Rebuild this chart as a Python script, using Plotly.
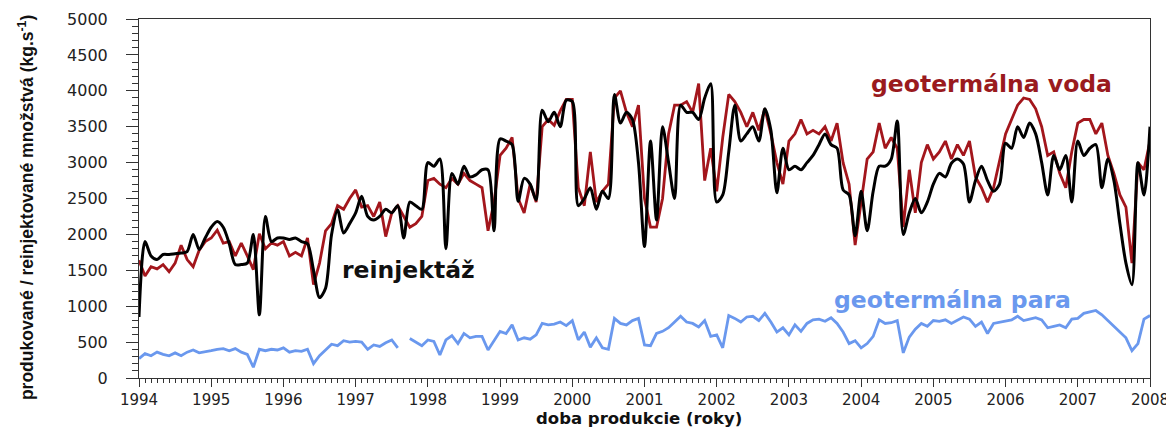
import plotly.graph_objects as go

start_year = 1994
n_months = 169  # Jan 1994 ... Jan 2008, monthly
t = [start_year + i / 12 for i in range(n_months)]

# geotermálna voda (produced water)
voda = [
    1640, 1420, 1550, 1520, 1580, 1480, 1600, 1850, 1650, 1550, 1780, 1900,
    1950, 2060, 1880, 1900, 1700, 1880, 1700, 1510, 2010, 1800, 1880, 1850,
    1900, 1700, 1750, 1700, 1950, 1300, 1600, 2050, 2150, 2400, 2350, 2500,
    2620, 2380, 2400, 2250, 2450, 1970, 2300, 2400, 2250, 2100, 2150, 2250,
    2750, 2780, 2700, 2650, 2780, 2700, 2850, 2750, 2700, 2650, 2050, 2450,
    3100, 3200, 3350, 2500, 2300, 2700, 2450, 3500, 3600, 3520, 3720, 3880,
    3880, 2650, 2400, 3150, 2450, 2600, 2700, 3900, 4000, 3700, 3500, 3800,
    2500, 2100, 2100, 2500, 3400, 3800, 3800, 3850, 3700, 4100, 2750, 3200,
    2600, 3350, 3950, 3850, 3700, 3500, 3700, 3450, 3750, 3400, 3000, 2700,
    3300, 3400, 3600, 3400, 3450, 3400, 3500, 3300, 3550, 3000, 2700, 1850,
    2450, 3050, 3150, 3550, 3200, 3350, 3200, 2100, 2900, 2300, 3000, 3250,
    3050, 3150, 3300, 3050, 3250, 3100, 3300, 2800, 2650, 2450, 2650, 3050,
    3400, 3600, 3800, 3900, 3880, 3750, 3500, 3100, 3150, 2850, 2650, 3150,
    3550, 3600, 3600, 3400, 3550, 3100, 2850, 2550, 2380, 1600, 3000, 2900,
    3300,
]

# reinjektáž (reinjected water)
reinjektaz = [
    850, 1900, 1700, 1650, 1720, 1720, 1730, 1740, 1760, 2000, 1790, 1950,
    2100, 2180, 2100, 1870, 1580, 1580, 1600, 2000, 880, 2250, 1900, 1950,
    1950, 1930, 1950, 1900, 1870, 1500, 1120, 1250, 2000, 2340, 2020, 2150,
    2300, 2530, 2250, 2200, 2250, 2350, 2300, 2400, 1950, 2450, 2400, 2350,
    3000, 2950, 3050, 1800, 2850, 2700, 2950, 2800, 2830, 2900, 2900, 2050,
    3330, 3300, 3250, 2460, 2780, 2700, 2480, 3730, 3570, 3700, 3500, 3870,
    3850, 2400, 2500, 2650, 2350, 2600, 2500, 3950, 3550, 3700, 3600, 3000,
    1830, 3300, 2200, 3500, 3000, 2500, 3800, 3700, 3700, 3600, 3900, 4100,
    2450, 2550, 3150, 3800, 3300, 3400, 3500, 3300, 3750, 3450, 2580, 3200,
    2900, 2950, 2900, 3000, 3100, 3250, 3400, 3250, 3200, 2620, 2550, 1980,
    2600, 2050, 2600, 2950, 2950, 3050, 3580, 2000, 2300, 2500, 2300, 2450,
    2700, 2850, 2800, 2990, 3050, 2980, 2450, 2750, 2950, 2750, 2600, 2700,
    3270, 3200, 3500, 3350, 3550, 3400, 3000, 2550, 3100, 2900, 3100, 2450,
    3300, 3100, 3200, 3250, 2650, 3050, 2750, 2150, 1600, 1300, 3000, 2550,
    3500,
]

# geotermálna para (steam)
para = [
    270, 340, 310, 360, 330, 310, 350, 310, 360, 390, 350, 360,
    380, 400, 410, 380, 410, 360, 330, 150, 400, 380, 400, 390,
    420, 360, 380, 370, 400, 200, 310, 390, 470, 450, 520, 500,
    510, 500, 400, 460, 440, 490, 530, 420, None, 550, 500, 450,
    530, 510, 320, 530, 590, 480, 620, 560, 580, 580, 390, 520,
    650, 620, 740, 530, 560, 540, 600, 760, 740, 750, 780, 730,
    800, 530, 640, 430, 560, 420, 400, 830, 760, 740, 800, 830,
    460, 450, 620, 650, 700, 780, 860, 780, 760, 710, 800, 580,
    600, 420, 870, 830, 780, 850, 860, 800, 900, 780, 640, 700,
    600, 740, 650, 760, 810, 820, 790, 840, 760, 640, 480, 520,
    420, 480, 580, 810, 760, 770, 800, 350, 570, 680, 760, 720,
    800, 790, 810, 760, 800, 850, 820, 720, 780, 620, 760, 780,
    800, 810, 860, 800, 820, 840, 810, 700, 720, 740, 700, 820,
    830, 900, 920, 940, 880, 800, 720, 630, 560, 380, 480, 820,
    870,
]

RED = "#A3161C"
BLUE = "#6A98EE"

fig = go.Figure()
fig.add_trace(go.Scatter(x=t, y=voda, mode="lines", name="geotermálna voda",
                         line=dict(color=RED, width=2.8)))
fig.add_trace(go.Scatter(x=t, y=reinjektaz, mode="lines", name="reinjektáž",
                         line=dict(color="#000000", width=3, shape="spline", smoothing=0.8)))
fig.add_trace(go.Scatter(x=t, y=para, mode="lines", name="geotermálna para",
                         connectgaps=False, line=dict(color=BLUE, width=2.8)))

label_font = dict(family="DejaVu Sans", size=23.5, weight="bold")
fig.add_annotation(x=2005.81, y=4095, text="geotermálna voda", showarrow=False,
                   font=dict(label_font, color="#9A1A1E"))
fig.add_annotation(x=1997.73, y=1504, text="reinjektáž", showarrow=False,
                   font=dict(label_font, color="#111111"))
fig.add_annotation(x=2005.26, y=1087, text="geotermálna para", showarrow=False,
                   font=dict(label_font, color=BLUE))

# axis titles as annotations for exact placement
fig.add_annotation(xref="x", yref="paper", x=2000.92, y=-0.142, yanchor="bottom",
                   text="<b>doba produkcie (roky)</b>", showarrow=False, borderpad=0,
                   font=dict(family="DejaVu Sans", size=16.5, color="#111111"))
fig.add_annotation(xref="paper", yref="paper", x=-0.1118, y=0.476, xanchor="center",
                   yanchor="middle", textangle=-90,
                   text="<b>produkované / reinjektované množstvá (kg.s<sup>-1</sup>)</b>",
                   showarrow=False,
                   font=dict(family="Liberation Sans", size=17.5, color="#111111"))

axis_col = "#333333"
# the page body adds an 8px offset, so the figure is sized to fill the rest of the window
fig.update_layout(
    width=1166, height=421,
    margin=dict(l=131, r=24, t=11, b=51, autoexpand=False),
    paper_bgcolor="white", plot_bgcolor="white",
    showlegend=False,
    xaxis=dict(
        range=[1994, 2008], tickmode="linear", tick0=1994, dtick=1,
        ticks="outside", ticklen=8, tickwidth=1, tickcolor=axis_col,
        minor=dict(dtick=1 / 12, ticks="outside", ticklen=4, tickcolor=axis_col, showgrid=False),
        showline=True, linecolor=axis_col, linewidth=1, mirror=True,
        showgrid=False, zeroline=False, automargin=False,
        tickfont=dict(family="DejaVu Sans", size=15, color="#222222"),
        ticklabelstandoff=0,
    ),
    yaxis=dict(
        range=[0, 5000], tickmode="linear", tick0=0, dtick=500,
        ticks="outside", ticklen=12, tickwidth=1, tickcolor=axis_col,
        minor=dict(dtick=100, ticks="outside", ticklen=6, tickcolor=axis_col, showgrid=False),
        showline=True, linecolor=axis_col, linewidth=1, mirror=True,
        showgrid=False, zeroline=False, automargin=False,
        tickfont=dict(family="DejaVu Sans", size=16, color="#222222"),
        ticklabelstandoff=15,
    ),
)

fig.write_html("out.html")
